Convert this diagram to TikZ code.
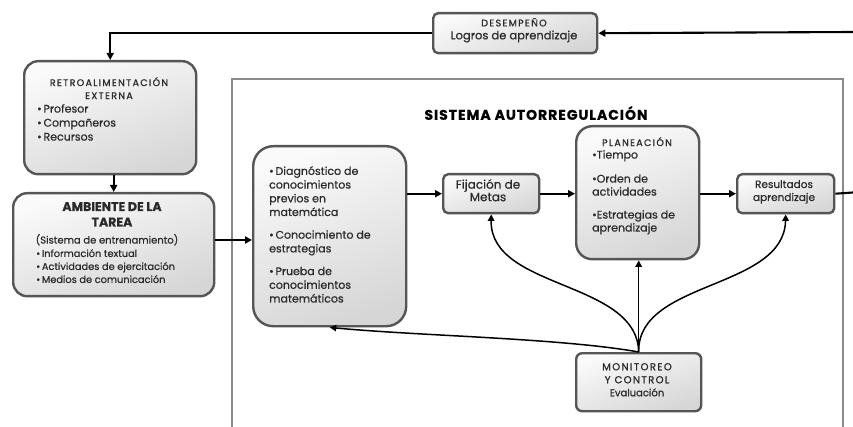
\documentclass[tikz,border=0pt]{standalone}
\usepackage{fontspec}
\setmainfont{Poppins}[FakeBold=0.6]
\newfontfamily\spaced{Poppins}[LetterSpace=14,FakeBold=1]
\newfontfamily\titlefont{Poppins}[LetterSpace=7,FakeBold=0.8]
\usetikzlibrary{arrows.meta}
\definecolor{bord}{HTML}{555555}
\definecolor{txt}{HTML}{2A2A2A}
\definecolor{frame}{HTML}{8A8A8A}
\tikzset{
  box/.style={draw=bord, line width=2.4pt, rounded corners=#1, shading=axis, top color=gray!4, bottom color=gray!32, shading angle=20, inner sep=0pt, anchor=north west},
  lbl/.style={inner sep=0pt, text=txt, font=\fontsize{10}{13}\selectfont},
  arr/.style={-{Triangle[length=7pt,width=7pt]}, line width=2.1pt, black},
  carr/.style={-{Triangle[length=6.5pt,width=6.5pt]}, line width=1.5pt, black},
  ln/.style={line width=2.1pt, black}
}
\begin{document}
\begin{tikzpicture}[x=1pt,y=-1pt]
\clip (0,0) rectangle (853,427);
\fill[white] (0,0) rectangle (853,427);
% frame of the system
\draw[frame, line width=1.6pt] (232,460) -- (232,79) -- (843,79) -- (843,460);
\node[lbl, font=\fontsize{14}{16}\titlefont\bfseries, text=black] (title) at (536,113) {SISTEMA AUTORREGULACIÓN};

% boxes
\node[box=5pt, minimum width=164pt, minimum height=40pt] (desem) at (432,12) {};
\node[box=14pt, minimum width=172pt, minimum height=113pt] (retro) at (23,60) {};
\node[box=14pt, minimum width=201pt, minimum height=103pt] (amb) at (12,192) {};
\node[box=20pt, minimum width=153pt, minimum height=180pt] (diag) at (252,145) {};
\node[box=5pt, minimum width=96pt, minimum height=39pt] (fij) at (442,173) {};
\node[box=16pt, minimum width=123pt, minimum height=133pt] (plan) at (575,125) {};
\node[box=5pt, minimum width=97pt, minimum height=39pt] (res) at (736,173) {};
\node[box=6pt, minimum width=125pt, minimum height=58pt] (mon) at (575,352) {};

% texts
\node[lbl, align=center, anchor=north] (desemT) at (514,18) {{\spaced\fontsize{9.5}{12}\selectfont DESEMPEÑO}\\{\fontsize{11.5}{13}\selectfont Logros de aprendizaje}};
\node[lbl, align=center, anchor=north] (retroT) at (109,77) {{\spaced\fontsize{9.5}{12}\selectfont RETROALIMENTACIÓN}\\{\spaced\fontsize{9.5}{12}\selectfont EXTERNA}};
\node[lbl, align=left, anchor=north west, font=\fontsize{11}{14}\selectfont] (retroB) at (37,104) {•\,Profesor\\•\,Compañeros\\•\,Recursos};
\node[lbl, align=center, anchor=north, font=\fontsize{12.5}{15.5}\selectfont\bfseries] (ambT) at (112,202) {AMBIENTE DE LA\\TAREA};
\node[lbl, align=center, anchor=north] (ambS) at (107,234) {(Sistema de entrenamiento)};
\node[lbl, align=left, anchor=north west, font=\fontsize{9.8}{13}\selectfont] (ambB) at (36,249) {•\,Información textual\\•\,Actividades de ejercitación\\•\,Medios de comunicación};
\node[lbl, align=left, anchor=north west, font=\fontsize{11}{13.7}\selectfont] (diagT) at (269,166) {•\,Diagnóstico de\\conocimientos\\previos en\\matemática\\[9pt]•\,Conocimiento de\\estrategias\\[9pt]•\,Prueba de\\conocimientos\\matemáticos};
\node[lbl, align=center, anchor=north, font=\fontsize{12}{12.5}\selectfont] (fijT) at (488,179) {Fijación de\\Metas};
\node[lbl, align=center, anchor=north] (planT) at (637,137) {\spaced\fontsize{9.5}{12}\selectfont PLANEACIÓN};
\node[lbl, align=left, anchor=north west, font=\fontsize{11}{13}\selectfont] (planB) at (592,150) {•Tiempo\\[11pt]•Orden de\\actividades\\[10pt]•Estrategias de\\aprendizaje};
\node[lbl, align=center, anchor=north, font=\fontsize{10.5}{13}\selectfont] (resT) at (784,180) {Resultados\\aprendizaje};
\node[lbl, align=center, anchor=north] (monT) at (637,363) {{\spaced\fontsize{10}{12}\selectfont MONITOREO}\\{\spaced\fontsize{10}{12}\selectfont Y CONTROL}\\{\fontsize{10}{14}\selectfont Evaluación}};

% connectors
\coordinate (tend) at (853,32);
\coordinate (rend) at (853,192.5);
\draw[arr] (tend) -- (desem.east);
\draw[arr] (desem.west) -| (retro.north);
\draw[arr] (retro.south -| amb.north) -- (amb.north);
\draw[arr] (amb.east |- 0,240) -- (diag.west |- 0,240);
\draw[arr] (diag.east |- fij.west) -- (fij.west);
\draw[arr] (fij.east) -- (plan.west |- fij.east);
\draw[arr] (plan.east |- res.west) -- (res.west);
\draw[ln] (res.east) -- (rend);
\draw[carr] (mon.north) .. controls (637,280) and (490,290) .. (fij.south);
\draw[carr] (mon.north) .. controls (637,280) and (784,290) .. (res.south);
\draw[carr] (mon.north) -- (mon.north |- plan.south);
\draw[carr] (mon.north) .. controls (560,338) and (420,336) .. (diag.south);
\end{tikzpicture}
\end{document}
